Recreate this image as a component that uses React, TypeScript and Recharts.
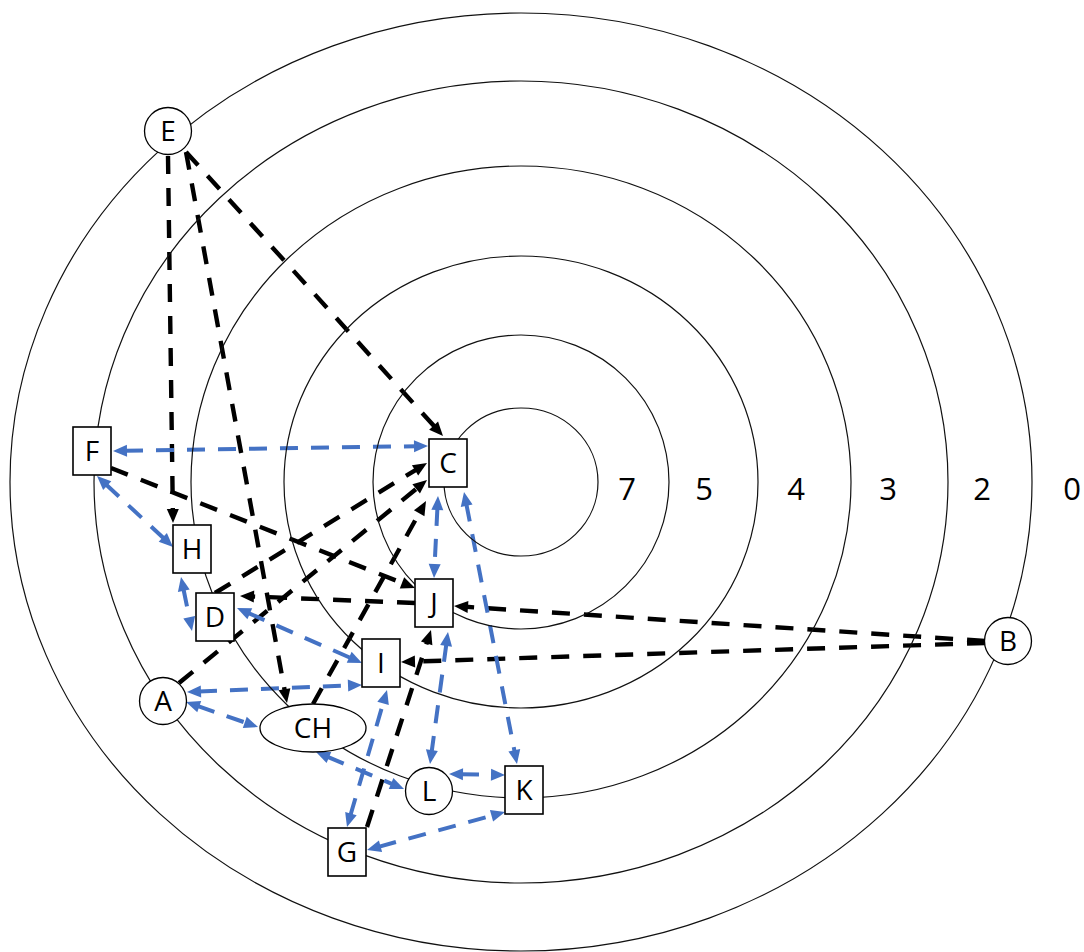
import { ReferenceLine, Scatter, ScatterChart, XAxis, YAxis } from "recharts";

const W = 1084;
const H = 952;

// concentric levels, innermost first
const levelNames = ["7", "5", "4", "3", "2", "0"];
const ringRx = [77, 148, 237, 330, 427, 511];
const ringRy = [74, 147, 226, 316, 401, 469];
const ringCx = 521;
const ringCy = 482;
const levelLabelX = [627, 704, 796, 888, 982, 1072];
const levelLabelY = 489;

// nodes
const nodeNames = ["E", "F", "C", "H", "J", "D", "I", "A", "B", "CH", "L", "K", "G"];
const nodeX = [168, 92, 448, 192, 434, 215, 381, 163, 1008, 313, 429, 524, 347];
const nodeY = [131, 451, 463, 549, 603, 617, 663, 701, 641, 728, 791, 790, 852];
const nodeKind = ["circle", "box", "box", "box", "box", "box", "box", "circle", "circle", "ellipse", "circle", "box", "box"];

// one-way links (black): from, to, x1, y1, x2, y2
const blackLinks: [string, string, number, number, number, number][] = [
  ["E", "H", 168, 156, 173, 523],
  ["E", "CH", 186, 152, 287, 703],
  ["E", "C", 186, 152, 443, 436],
  ["F", "J", 111, 468, 415, 588],
  ["J", "D", 415, 603, 240, 596],
  ["B", "J", 985, 641, 454, 606],
  ["B", "I", 985, 643, 401, 662],
  ["G", "J", 367, 827, 431, 630],
  ["D", "C", 215, 593, 427, 463],
  ["A", "C", 179, 683, 427, 480],
  ["CH", "C", 313, 704, 426, 501],
];

// two-way links (blue)
const blueLinks: [string, string, number, number, number, number][] = [
  ["F", "C", 113, 451, 428, 446],
  ["F", "H", 97, 476, 173, 547],
  ["H", "D", 181, 577, 192, 631],
  ["D", "I", 237, 608, 362, 663],
  ["A", "I", 187, 692, 362, 685],
  ["A", "CH", 186, 702, 258, 727],
  ["CH", "L", 316, 752, 404, 789],
  ["L", "K", 449, 774, 505, 775],
  ["G", "K", 367, 850, 505, 812],
  ["G", "I", 347, 827, 387, 690],
  ["C", "J", 438, 496, 434, 578],
  ["C", "K", 464, 492, 517, 764],
  ["J", "L", 448, 632, 430, 764],
];

const BLUE = "#4472C4";
const FONT = "'Open Sans', 'Noto Sans', sans-serif";

const ringData = ringRx.map((rx, i) => ({ x: ringCx, y: ringCy, rx, ry: ringRy[i] }));
const levelData = levelNames.map((name, i) => ({ x: levelLabelX[i], y: levelLabelY, name }));
const nodeData = nodeNames.map((name, i) => ({ x: nodeX[i], y: nodeY[i], name, kind: nodeKind[i] }));

function arrowHead(tx: number, ty: number, ux: number, uy: number, color: string) {
  const L = 14;
  const w = 6;
  const bx = tx - ux * L;
  const by = ty - uy * L;
  const pts = `${tx},${ty} ${bx - uy * w},${by + ux * w} ${bx + uy * w},${by - ux * w}`;
  return <polygon points={pts} fill={color} />;
}

const linkShape = (color: string, both: boolean, dash: string, sw: number) => (p: any) => {
  const x1 = Number(p.x1);
  const y1 = Number(p.y1);
  const x2 = Number(p.x2);
  const y2 = Number(p.y2);
  const len = Math.hypot(x2 - x1, y2 - y1) || 1;
  const ux = (x2 - x1) / len;
  const uy = (y2 - y1) / len;
  const cut = 12;
  const sx = both ? x1 + ux * cut : x1;
  const sy = both ? y1 + uy * cut : y1;
  return (
    <g>
      <line
        x1={sx}
        y1={sy}
        x2={x2 - ux * cut}
        y2={y2 - uy * cut}
        stroke={color}
        strokeWidth={sw}
        strokeDasharray={dash}
      />
      {arrowHead(x2, y2, ux, uy, color)}
      {both && arrowHead(x1, y1, -ux, -uy, color)}
    </g>
  );
};

const ringShape = (p: any) => (
  <ellipse cx={p.cx} cy={p.cy} rx={p.payload.rx} ry={p.payload.ry} fill="none" stroke="#111" strokeWidth={1.2} />
);

const levelShape = (p: any) => (
  <text x={p.cx} y={p.cy} dy="0.35em" textAnchor="middle" fontFamily={FONT} fontSize={31} fill="#000">
    {p.payload.name}
  </text>
);

const nodeShape = (p: any) => {
  const { cx, cy, payload } = p;
  let outline;
  if (payload.kind === "box") {
    outline = <rect x={cx - 19} y={cy - 24} width={38} height={48} fill="#fff" stroke="#000" strokeWidth={1.6} />;
  } else if (payload.kind === "ellipse") {
    outline = <ellipse cx={cx} cy={cy} rx={53} ry={24} fill="#fff" stroke="#000" strokeWidth={1.3} />;
  } else {
    outline = <circle cx={cx} cy={cy} r={23.5} fill="#fff" stroke="#000" strokeWidth={1.3} />;
  }
  return (
    <g>
      {outline}
      <text x={cx} y={cy} dy="0.36em" textAnchor="middle" fontFamily={FONT} fontSize={28} fill="#000">
        {payload.name}
      </text>
    </g>
  );
};

export default function App() {
  return (
    <div style={{ position: "absolute", left: 0, top: 0, width: W, height: H, background: "#fff" }}>
      <ScatterChart width={W} height={H} margin={{ top: 0, right: 0, bottom: 0, left: 0 }}>
        <XAxis type="number" dataKey="x" domain={[0, W]} hide />
        <YAxis type="number" dataKey="y" domain={[0, H]} reversed hide />
        <Scatter data={ringData} shape={ringShape} isAnimationActive={false} />
        <Scatter data={levelData} shape={levelShape} isAnimationActive={false} />
        {blackLinks.map(([a, b, x1, y1, x2, y2]) => (
          <ReferenceLine
            key={`k-${a}-${b}`}
            segment={[{ x: x1, y: y1 }, { x: x2, y: y2 }]}
            ifOverflow="visible"
            shape={linkShape("#000", false, "18 14", 4.4)}
          />
        ))}
        {blueLinks.map(([a, b, x1, y1, x2, y2]) => (
          <ReferenceLine
            key={`b-${a}-${b}`}
            segment={[{ x: x1, y: y1 }, { x: x2, y: y2 }]}
            ifOverflow="visible"
            shape={linkShape(BLUE, true, "18 13", 4)}
          />
        ))}
        <Scatter data={nodeData} shape={nodeShape} isAnimationActive={false} />
      </ScatterChart>
    </div>
  );
}
